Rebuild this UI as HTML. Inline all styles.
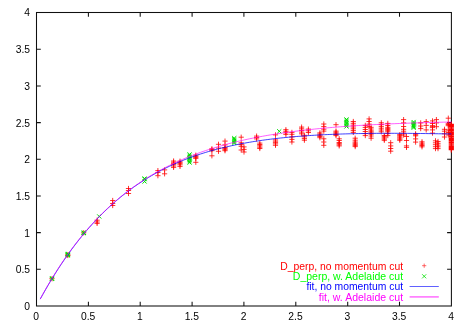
<!DOCTYPE html>
<html><head><meta charset="utf-8"><title>plot</title>
<style>
html,body{margin:0;padding:0;background:#fff;}
body{width:469px;height:327px;overflow:hidden;}
svg{display:block;will-change:transform;}
text{font-family:"Liberation Sans",sans-serif;font-size:10.3px;fill:#000;}
</style></head><body>
<svg width="469" height="327" viewBox="0 0 469 327">
<rect width="469" height="327" fill="#fff"/>
<g fill="none" stroke="#101010" stroke-width="1.05">
<rect x="36.5" y="12.5" width="414.9" height="293.5"/>
<path d="M88.4 306.0v-4.3M88.4 12.5v4.3M36.5 269.3h4.3M451.4 269.3h-4.3M140.2 306.0v-4.3M140.2 12.5v4.3M36.5 232.6h4.3M451.4 232.6h-4.3M192.1 306.0v-4.3M192.1 12.5v4.3M36.5 195.9h4.3M451.4 195.9h-4.3M243.9 306.0v-4.3M243.9 12.5v4.3M36.5 159.2h4.3M451.4 159.2h-4.3M295.8 306.0v-4.3M295.8 12.5v4.3M36.5 122.6h4.3M451.4 122.6h-4.3M347.7 306.0v-4.3M347.7 12.5v4.3M36.5 85.9h4.3M451.4 85.9h-4.3M399.5 306.0v-4.3M399.5 12.5v4.3M36.5 49.2h4.3M451.4 49.2h-4.3"/>
</g>
<g><text x="36.2" y="320.2" text-anchor="middle">0</text><text x="30" y="309.9" text-anchor="end">0</text><text x="88.1" y="320.2" text-anchor="middle">0.5</text><text x="30" y="273.2" text-anchor="end">0.5</text><text x="139.9" y="320.2" text-anchor="middle">1</text><text x="30" y="236.5" text-anchor="end">1</text><text x="191.8" y="320.2" text-anchor="middle">1.5</text><text x="30" y="199.8" text-anchor="end">1.5</text><text x="243.6" y="320.2" text-anchor="middle">2</text><text x="30" y="163.2" text-anchor="end">2</text><text x="295.5" y="320.2" text-anchor="middle">2.5</text><text x="30" y="126.5" text-anchor="end">2.5</text><text x="347.4" y="320.2" text-anchor="middle">3</text><text x="30" y="89.8" text-anchor="end">3</text><text x="399.2" y="320.2" text-anchor="middle">3.5</text><text x="30" y="53.1" text-anchor="end">3.5</text><text x="451.1" y="320.2" text-anchor="middle">4</text><text x="30" y="16.4" text-anchor="end">4</text></g>
<path d="M49.4 278.7h5.2M52.0 276.1v5.2M65.2 254.7h5.2M67.8 252.1v5.2M65.2 255.5h5.2M67.8 252.9v5.2M81.1 232.8h5.2M83.7 230.2v5.2M94.5 220.2h5.2M97.1 217.6v5.2M94.5 222.0h5.2M97.1 219.4v5.2M94.5 223.4h5.2M97.1 220.8v5.2M110.1 200.5h5.2M112.7 197.9v5.2M110.1 203.5h5.2M112.7 200.9v5.2M110.1 205.5h5.2M112.7 202.9v5.2M125.9 188.5h5.2M128.5 185.9v5.2M125.9 190.5h5.2M128.5 187.9v5.2M125.9 193.5h5.2M128.5 190.9v5.2M155.3 170.6h5.2M157.9 168.0v5.2M155.3 172.5h5.2M157.9 169.9v5.2M155.3 175.7h5.2M157.9 173.1v5.2M162.0 169.9h5.2M164.6 167.3v5.2M162.0 173.8h5.2M164.6 171.2v5.2M171.0 161.0h5.2M173.6 158.4v5.2M171.0 162.2h5.2M173.6 159.6v5.2M171.0 163.4h5.2M173.6 160.8v5.2M171.0 164.6h5.2M173.6 162.0v5.2M171.0 166.0h5.2M173.6 163.4v5.2M171.0 167.4h5.2M173.6 164.8v5.2M177.4 161.2h5.2M180.0 158.6v5.2M177.4 162.4h5.2M180.0 159.8v5.2M177.4 163.6h5.2M180.0 161.0v5.2M177.4 164.8h5.2M180.0 162.2v5.2M177.4 166.4h5.2M180.0 163.8v5.2M193.2 155.2h5.2M195.8 152.6v5.2M193.2 156.4h5.2M195.8 153.8v5.2M193.2 157.4h5.2M195.8 154.8v5.2M193.2 158.4h5.2M195.8 155.8v5.2M193.2 162.3h5.2M195.8 159.7v5.2M209.3 148.8h5.2M211.9 146.2v5.2M209.3 149.6h5.2M211.9 147.0v5.2M209.3 150.7h5.2M211.9 148.1v5.2M209.3 155.8h5.2M211.9 153.2v5.2M215.9 144.3h5.2M218.5 141.7v5.2M215.9 148.1h5.2M218.5 145.5v5.2M215.9 151.3h5.2M218.5 148.7v5.2M222.4 141.1h5.2M225.0 138.5v5.2M222.4 144.9h5.2M225.0 142.3v5.2M222.4 147.5h5.2M225.0 144.9v5.2M222.4 148.6h5.2M225.0 146.0v5.2M222.4 149.7h5.2M225.0 147.1v5.2M222.4 150.7h5.2M225.0 148.1v5.2M238.6 137.2h5.2M241.2 134.6v5.2M238.6 142.8h5.2M241.2 140.2v5.2M238.6 144.6h5.2M241.2 142.0v5.2M238.6 146.3h5.2M241.2 143.7v5.2M238.6 150.0h5.2M241.2 147.4v5.2M241.4 146.9h5.2M244.0 144.3v5.2M241.4 149.4h5.2M244.0 146.8v5.2M241.4 152.0h5.2M244.0 149.4v5.2M254.0 136.1h5.2M256.6 133.5v5.2M254.0 137.5h5.2M256.6 134.9v5.2M254.0 138.9h5.2M256.6 136.3v5.2M257.2 143.1h5.2M259.8 140.5v5.2M257.2 144.5h5.2M259.8 141.9v5.2M257.2 145.8h5.2M259.8 143.2v5.2M257.2 147.2h5.2M259.8 144.6v5.2M257.2 148.5h5.2M259.8 145.9v5.2M272.9 134.9h5.2M275.5 132.3v5.2M272.9 139.9h5.2M275.5 137.3v5.2M272.9 141.2h5.2M275.5 138.7v5.2M272.9 142.6h5.2M275.5 140.0v5.2M272.9 143.9h5.2M275.5 141.3v5.2M272.9 145.3h5.2M275.5 142.7v5.2M283.3 129.7h5.2M285.9 127.1v5.2M283.3 131.3h5.2M285.9 128.7v5.2M283.3 132.8h5.2M285.9 130.2v5.2M283.3 134.4h5.2M285.9 131.8v5.2M289.3 132.4h5.2M291.9 129.8v5.2M289.3 134.3h5.2M291.9 131.7v5.2M289.3 136.9h5.2M291.9 134.3v5.2M289.3 139.4h5.2M291.9 136.8v5.2M289.3 142.0h5.2M291.9 139.4v5.2M299.0 127.1h5.2M301.6 124.5v5.2M299.0 128.8h5.2M301.6 126.2v5.2M299.0 130.4h5.2M301.6 127.8v5.2M299.0 132.1h5.2M301.6 129.5v5.2M299.0 133.8h5.2M301.6 131.2v5.2M301.8 135.3h5.2M304.4 132.7v5.2M301.8 136.9h5.2M304.4 134.3v5.2M301.8 138.6h5.2M304.4 136.0v5.2M301.8 140.2h5.2M304.4 137.6v5.2M305.8 129.1h5.2M308.4 126.5v5.2M305.8 130.8h5.2M308.4 128.2v5.2M305.8 132.5h5.2M308.4 129.9v5.2M317.3 132.9h5.2M319.9 130.3v5.2M317.3 134.1h5.2M319.9 131.5v5.2M317.3 135.3h5.2M319.9 132.7v5.2M317.3 136.5h5.2M319.9 133.9v5.2M317.3 137.7h5.2M319.9 135.1v5.2M321.2 124.0h5.2M323.8 121.4v5.2M321.2 126.6h5.2M323.8 124.0v5.2M321.2 129.2h5.2M323.8 126.6v5.2M321.2 131.1h5.2M323.8 128.5v5.2M321.2 138.8h5.2M323.8 136.2v5.2M321.2 142.0h5.2M323.8 139.4v5.2M321.2 145.3h5.2M323.8 142.7v5.2M333.4 124.7h5.2M336.0 122.1v5.2M333.4 131.1h5.2M336.0 128.5v5.2M333.4 132.2h5.2M336.0 129.6v5.2M333.4 133.3h5.2M336.0 130.8v5.2M333.4 134.5h5.2M336.0 131.9v5.2M333.4 135.6h5.2M336.0 133.0v5.2M336.6 138.8h5.2M339.2 136.2v5.2M336.6 140.5h5.2M339.2 137.9v5.2M336.6 142.5h5.2M339.2 139.9v5.2M336.6 143.6h5.2M339.2 141.0v5.2M336.6 144.8h5.2M339.2 142.2v5.2M336.6 145.9h5.2M339.2 143.3v5.2M350.7 121.5h5.2M353.3 118.9v5.2M350.7 123.3h5.2M353.3 120.7v5.2M350.7 125.1h5.2M353.3 122.5v5.2M350.7 127.0h5.2M353.3 124.4v5.2M350.7 128.8h5.2M353.3 126.2v5.2M350.7 130.6h5.2M353.3 128.0v5.2M350.7 132.4h5.2M353.3 129.8v5.2M352.6 138.2h5.2M355.2 135.6v5.2M352.6 140.2h5.2M355.2 137.6v5.2M352.6 142.0h5.2M355.2 139.4v5.2M352.6 143.2h5.2M355.2 140.6v5.2M352.6 144.3h5.2M355.2 141.7v5.2M352.6 145.4h5.2M355.2 142.8v5.2M352.6 146.6h5.2M355.2 144.0v5.2M362.7 125.4h5.2M365.3 122.8v5.2M362.7 127.4h5.2M365.3 124.8v5.2M362.7 129.5h5.2M365.3 126.9v5.2M362.7 131.5h5.2M365.3 128.9v5.2M362.7 133.6h5.2M365.3 131.0v5.2M362.7 135.6h5.2M365.3 133.0v5.2M366.5 118.9h5.2M369.1 116.3v5.2M366.5 121.5h5.2M369.1 118.9v5.2M366.5 124.1h5.2M369.1 121.5v5.2M366.5 126.6h5.2M369.1 124.0v5.2M368.5 127.3h5.2M371.1 124.7v5.2M368.5 129.0h5.2M371.1 126.4v5.2M368.5 130.8h5.2M371.1 128.2v5.2M368.5 131.9h5.2M371.1 129.3v5.2M368.5 133.1h5.2M371.1 130.5v5.2M368.5 134.2h5.2M371.1 131.6v5.2M368.5 136.0h5.2M371.1 133.4v5.2M368.5 138.2h5.2M371.1 135.6v5.2M378.7 122.8h5.2M381.3 120.2v5.2M378.7 124.6h5.2M381.3 122.0v5.2M378.7 126.4h5.2M381.3 123.8v5.2M378.7 128.2h5.2M381.3 125.6v5.2M378.7 130.0h5.2M381.3 127.4v5.2M378.7 131.8h5.2M381.3 129.2v5.2M381.7 135.5h5.2M384.3 132.9v5.2M381.7 136.7h5.2M384.3 134.1v5.2M381.7 137.9h5.2M384.3 135.3v5.2M381.7 139.1h5.2M384.3 136.5v5.2M381.7 140.3h5.2M384.3 137.7v5.2M385.2 123.4h5.2M387.8 120.8v5.2M385.2 125.5h5.2M387.8 122.9v5.2M385.2 127.3h5.2M387.8 124.7v5.2M385.2 128.4h5.2M387.8 125.8v5.2M385.2 129.6h5.2M387.8 127.0v5.2M385.2 130.7h5.2M387.8 128.1v5.2M385.2 131.8h5.2M387.8 129.2v5.2M385.2 133.6h5.2M387.8 131.0v5.2M385.2 135.6h5.2M387.8 133.0v5.2M388.1 142.7h5.2M390.7 140.1v5.2M388.1 145.9h5.2M390.7 143.3v5.2M388.1 148.5h5.2M390.7 145.9v5.2M388.1 151.2h5.2M390.7 148.6v5.2M397.2 134.6h5.2M399.8 132.0v5.2M397.2 135.7h5.2M399.8 133.1v5.2M397.2 136.9h5.2M399.8 134.3v5.2M397.2 138.0h5.2M399.8 135.4v5.2M397.2 139.2h5.2M399.8 136.6v5.2M397.2 140.3h5.2M399.8 137.7v5.2M401.0 119.6h5.2M403.6 117.0v5.2M401.0 122.9h5.2M403.6 120.3v5.2M401.0 126.5h5.2M403.6 123.9v5.2M401.0 129.3h5.2M403.6 126.7v5.2M401.0 131.2h5.2M403.6 128.6v5.2M401.0 133.1h5.2M403.6 130.5v5.2M401.0 135.0h5.2M403.6 132.4v5.2M403.9 136.5h5.2M406.5 133.9v5.2M403.9 140.5h5.2M406.5 137.9v5.2M403.9 145.9h5.2M406.5 143.3v5.2M403.9 147.4h5.2M406.5 144.8v5.2M413.0 133.8h5.2M415.6 131.2v5.2M413.0 134.8h5.2M415.6 132.2v5.2M413.0 135.8h5.2M415.6 133.2v5.2M413.0 138.9h5.2M415.6 136.3v5.2M413.0 142.1h5.2M415.6 139.5v5.2M418.1 122.9h5.2M420.7 120.3v5.2M418.1 126.0h5.2M420.7 123.4v5.2M418.1 128.6h5.2M420.7 126.0v5.2M419.4 141.8h5.2M422.0 139.2v5.2M419.4 143.1h5.2M422.0 140.5v5.2M419.4 144.3h5.2M422.0 141.7v5.2M419.4 145.5h5.2M422.0 142.9v5.2M419.4 146.8h5.2M422.0 144.2v5.2M423.6 121.6h5.2M426.2 119.0v5.2M423.6 125.4h5.2M426.2 122.8v5.2M423.6 129.9h5.2M426.2 127.3v5.2M429.9 120.9h5.2M432.5 118.3v5.2M429.9 123.5h5.2M432.5 120.9v5.2M429.9 125.6h5.2M432.5 123.0v5.2M429.9 126.6h5.2M432.5 124.0v5.2M429.9 127.6h5.2M432.5 125.0v5.2M429.9 129.9h5.2M432.5 127.3v5.2M429.9 133.1h5.2M432.5 130.5v5.2M433.8 119.6h5.2M436.4 117.0v5.2M433.8 122.9h5.2M436.4 120.3v5.2M433.8 126.7h5.2M436.4 124.1v5.2M432.9 140.8h5.2M435.5 138.2v5.2M432.9 142.8h5.2M435.5 140.2v5.2M432.9 144.7h5.2M435.5 142.1v5.2M432.9 146.7h5.2M435.5 144.1v5.2M432.9 148.6h5.2M435.5 146.0v5.2M435.4 141.5h5.2M438.0 138.9v5.2M435.4 143.3h5.2M438.0 140.7v5.2M435.4 145.1h5.2M438.0 142.5v5.2M435.4 146.8h5.2M438.0 144.2v5.2M435.4 148.6h5.2M438.0 146.0v5.2M441.9 129.3h5.2M444.5 126.7v5.2M441.9 131.2h5.2M444.5 128.6v5.2M441.9 133.8h5.2M444.5 131.2v5.2M441.9 137.0h5.2M444.5 134.4v5.2M445.7 118.2h5.2M448.3 115.6v5.2M445.7 123.3h5.2M448.3 120.7v5.2M445.7 124.5h5.2M448.3 121.9v5.2M445.7 125.7h5.2M448.3 123.1v5.2M445.7 130.0h5.2M448.3 127.4v5.2M445.7 132.5h5.2M448.3 129.9v5.2M445.7 135.0h5.2M448.3 132.4v5.2" fill="none" stroke="#ff0000" stroke-width="0.8"/>
<path d="M448.7 124.4h5.2M451.3 121.8v5.2M448.7 125.6h5.2M451.3 123.0v5.2M448.7 126.8h5.2M451.3 124.2v5.2M448.7 128.0h5.2M451.3 125.4v5.2M448.7 129.2h5.2M451.3 126.6v5.2M448.7 130.4h5.2M451.3 127.8v5.2M448.7 131.7h5.2M451.3 129.1v5.2M448.7 132.9h5.2M451.3 130.3v5.2M448.7 134.1h5.2M451.3 131.5v5.2M448.7 135.3h5.2M451.3 132.7v5.2M448.7 136.5h5.2M451.3 133.9v5.2M448.7 137.7h5.2M451.3 135.1v5.2M448.7 138.9h5.2M451.3 136.3v5.2M448.7 140.1h5.2M451.3 137.5v5.2M448.7 141.3h5.2M451.3 138.7v5.2M448.7 142.5h5.2M451.3 139.9v5.2M448.7 143.8h5.2M451.3 141.2v5.2M448.7 145.0h5.2M451.3 142.4v5.2M448.7 146.2h5.2M451.3 143.6v5.2M448.7 147.4h5.2M451.3 144.8v5.2M448.7 148.6h5.2M451.3 146.0v5.2M448.7 149.8h5.2M451.3 147.2v5.2" fill="none" stroke="#ff0000" stroke-width="1.1"/>
<path d="M97.2 214.4l4.1 4.1M97.2 218.6l4.1 -4.1M142.5 176.4l4.1 4.1M142.5 180.6l4.1 -4.1M142.5 177.1l4.1 4.1M142.5 181.2l4.1 -4.1M142.5 179.4l4.1 4.1M142.5 183.6l4.1 -4.1M187.5 152.3l4.1 4.1M187.5 156.5l4.1 -4.1M187.5 153.7l4.1 4.1M187.5 157.8l4.1 -4.1M187.5 155.1l4.1 4.1M187.5 159.2l4.1 -4.1M187.5 156.4l4.1 4.1M187.5 160.6l4.1 -4.1M187.5 157.8l4.1 4.1M187.5 161.9l4.1 -4.1M187.5 159.2l4.1 4.1M187.5 163.3l4.1 -4.1M187.5 160.5l4.1 4.1M187.5 164.7l4.1 -4.1M232.2 136.1l4.1 4.1M232.2 140.2l4.1 -4.1M232.2 137.3l4.1 4.1M232.2 141.4l4.1 -4.1M232.2 138.5l4.1 4.1M232.2 142.7l4.1 -4.1M232.2 139.8l4.1 4.1M232.2 143.9l4.1 -4.1M232.2 140.9l4.1 4.1M232.2 145.1l4.1 -4.1M277.2 129.2l4.1 4.1M277.2 133.4l4.1 -4.1M344.4 117.4l4.1 4.1M344.4 121.5l4.1 -4.1M344.4 118.8l4.1 4.1M344.4 122.9l4.1 -4.1M344.4 120.2l4.1 4.1M344.4 124.2l4.1 -4.1M344.4 121.6l4.1 4.1M344.4 125.7l4.1 -4.1M344.4 123.0l4.1 4.1M344.4 127.0l4.1 -4.1M344.4 124.4l4.1 4.1M344.4 128.5l4.1 -4.1M411.6 120.0l4.1 4.1M411.6 124.0l4.1 -4.1M411.6 121.1l4.1 4.1M411.6 125.2l4.1 -4.1M411.6 122.3l4.1 4.1M411.6 126.4l4.1 -4.1M411.6 123.4l4.1 4.1M411.6 127.5l4.1 -4.1M411.6 124.6l4.1 4.1M411.6 128.7l4.1 -4.1M411.6 125.8l4.1 4.1M411.6 129.8l4.1 -4.1" fill="none" stroke="#00e000" stroke-width="1.0"/>
<path d="M49.8 276.5l4.4 4.4M49.8 280.9l4.4 -4.4M65.6 252.0l4.4 4.4M65.6 256.4l4.4 -4.4M65.6 253.0l4.4 4.4M65.6 257.4l4.4 -4.4M81.5 230.6l4.4 4.4M81.5 235.0l4.4 -4.4" fill="none" stroke="#00e000" stroke-width="1.2"/>
<polyline points="40.20,299.15 42.79,294.47 45.38,289.91 47.96,285.45 50.55,281.10 53.13,276.86 55.72,272.72 58.31,268.68 60.89,264.74 63.48,260.90 66.06,257.15 68.65,253.50 71.24,249.93 73.82,246.46 76.41,243.08 79.00,239.78 81.58,236.56 84.17,233.43 86.75,230.38 89.34,227.40 91.93,224.51 94.51,221.69 97.10,218.94 99.68,216.27 102.27,213.66 104.86,211.13 107.44,208.66 110.03,206.26 112.62,203.93 115.20,201.65 117.79,199.44 120.37,197.29 122.96,195.20 125.55,193.17 128.13,191.19 130.72,189.27 133.30,187.40 135.89,185.59 138.48,183.82 141.06,182.11 143.65,180.44 146.23,178.82 148.82,177.25 151.41,175.73 153.99,174.24 156.58,172.81 159.17,171.41 161.75,170.05 164.34,168.74 166.92,167.46 169.51,166.22 172.10,165.02 174.68,163.86 177.27,162.73 179.85,161.63 182.44,160.57 185.03,159.54 187.61,158.55 190.20,157.58 192.79,156.64 195.37,155.74 197.96,154.86 200.54,154.01 203.13,153.19 205.72,152.39 208.30,151.62 210.89,150.87 213.47,150.15 216.06,149.45 218.65,148.77 221.23,148.12 223.82,147.49 226.41,146.88 228.99,146.29 231.58,145.72 234.16,145.17 236.75,144.63 239.34,144.12 241.92,143.62 244.51,143.15 247.09,142.68 249.68,142.24 252.27,141.81 254.85,141.39 257.44,141.00 260.03,140.61 262.61,140.24 265.20,139.88 267.78,139.54 270.37,139.21 272.96,138.89 275.54,138.59 278.13,138.29 280.71,138.01 283.30,137.74 285.89,137.48 288.47,137.23 291.06,136.99 293.65,136.76 296.23,136.54 298.82,136.33 301.40,136.13 303.99,135.94 306.58,135.75 309.16,135.58 311.75,135.41 314.33,135.25 316.92,135.10 319.51,134.96 322.09,134.82 324.68,134.69 327.27,134.57 329.85,134.46 332.44,134.35 335.02,134.25 337.61,134.15 340.20,134.06 342.78,133.98 345.37,133.90 347.95,133.82 350.54,133.76 353.13,133.69 355.71,133.64 358.30,133.59 360.88,133.54 363.47,133.50 366.06,133.46 368.64,133.42 371.23,133.39 373.82,133.37 376.40,133.35 378.99,133.33 381.57,133.32 384.16,133.31 386.75,133.30 389.33,133.30 391.92,133.30 394.50,133.31 397.09,133.31 399.68,133.32 402.26,133.34 404.85,133.35 407.44,133.37 410.02,133.39 412.61,133.42 415.19,133.44 417.78,133.47 420.37,133.50 422.95,133.53 425.54,133.57 428.12,133.60 430.71,133.64 433.30,133.67 435.88,133.71 438.47,133.75 441.06,133.79 443.64,133.84 446.23,133.88 448.81,133.92 451.40,133.96" fill="none" stroke="#0000ff" stroke-width="0.75"/>
<polyline points="40.20,299.02 42.79,294.30 45.38,289.69 47.96,285.20 50.55,280.83 53.13,276.57 55.72,272.41 58.31,268.36 60.89,264.42 63.48,260.58 66.06,256.83 68.65,253.18 71.24,249.62 73.82,246.16 76.41,242.78 79.00,239.50 81.58,236.29 84.17,233.17 86.75,230.13 89.34,227.17 91.93,224.28 94.51,221.47 97.10,218.73 99.68,216.07 102.27,213.47 104.86,210.94 107.44,208.48 110.03,206.08 112.62,203.74 115.20,201.47 117.79,199.25 120.37,197.10 122.96,194.99 125.55,192.95 128.13,190.96 130.72,189.02 133.30,187.13 135.89,185.29 138.48,183.50 141.06,181.76 143.65,180.06 146.23,178.41 148.82,176.81 151.41,175.24 153.99,173.72 156.58,172.24 159.17,170.79 161.75,169.39 164.34,168.02 166.92,166.69 169.51,165.40 172.10,164.14 174.68,162.92 177.27,161.72 179.85,160.56 182.44,159.43 185.03,158.33 187.61,157.27 190.20,156.23 192.79,155.21 195.37,154.23 197.96,153.27 200.54,152.34 203.13,151.43 205.72,150.55 208.30,149.69 210.89,148.86 213.47,148.05 216.06,147.26 218.65,146.49 221.23,145.75 223.82,145.02 226.41,144.31 228.99,143.63 231.58,142.96 234.16,142.31 236.75,141.68 239.34,141.06 241.92,140.47 244.51,139.89 247.09,139.32 249.68,138.77 252.27,138.24 254.85,137.72 257.44,137.22 260.03,136.73 262.61,136.25 265.20,135.79 267.78,135.34 270.37,134.90 272.96,134.48 275.54,134.06 278.13,133.66 280.71,133.27 283.30,132.89 285.89,132.52 288.47,132.16 291.06,131.82 293.65,131.48 296.23,131.15 298.82,130.83 301.40,130.52 303.99,130.22 306.58,129.92 309.16,129.64 311.75,129.36 314.33,129.09 316.92,128.83 319.51,128.58 322.09,128.33 324.68,128.09 327.27,127.86 329.85,127.64 332.44,127.42 335.02,127.20 337.61,127.00 340.20,126.80 342.78,126.60 345.37,126.41 347.95,126.23 350.54,126.05 353.13,125.88 355.71,125.71 358.30,125.54 360.88,125.38 363.47,125.23 366.06,125.08 368.64,124.94 371.23,124.79 373.82,124.66 376.40,124.52 378.99,124.40 381.57,124.27 384.16,124.15 386.75,124.03 389.33,123.92 391.92,123.80 394.50,123.70 397.09,123.59 399.68,123.49 402.26,123.39 404.85,123.30 407.44,123.20 410.02,123.11 412.61,123.03 415.19,122.94 417.78,122.86 420.37,122.78 422.95,122.70 425.54,122.63 428.12,122.55 430.71,122.48 433.30,122.41 435.88,122.35 438.47,122.28 441.06,122.22 443.64,122.16 446.23,122.10 448.81,122.04 451.40,121.99" fill="none" stroke="#ff00ff" stroke-opacity="0.7" stroke-width="0.9"/>
<g><text x="403.1" y="269.6" text-anchor="end" textLength="122.8" lengthAdjust="spacingAndGlyphs" style="fill:#ff0000">D_perp, no momentum cut</text><text x="403.1" y="279.9" text-anchor="end" textLength="110.3" lengthAdjust="spacingAndGlyphs" style="fill:#00ff00">D_perp, w. Adelaide cut</text><text x="403.1" y="290.2" text-anchor="end" textLength="96.7" lengthAdjust="spacingAndGlyphs" style="fill:#0000ff">fit, no momentum cut</text><text x="403.1" y="300.5" text-anchor="end" textLength="84.3" lengthAdjust="spacingAndGlyphs" style="fill:#ff00ff">fit, w. Adelaide cut</text></g>
<path d="M422.1 265.7h4.2M424.2 263.6v4.2" fill="none" stroke="#ff4040" stroke-width="0.8"/>
<path d="M422.1 274.2l4.1 4.1M422.1 278.4l4.1 -4.1" fill="none" stroke="#00e000" stroke-width="0.8"/>
<path d="M409.6 286.5H438.8" fill="none" stroke="#3838ff" stroke-width="0.8"/>
<path d="M409.6 296.9H438.8" fill="none" stroke="#ff6cff" stroke-width="1.5"/>
</svg>
</body></html>
